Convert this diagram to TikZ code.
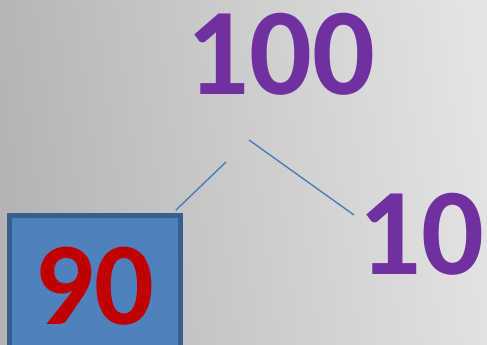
\documentclass[tikz,border=0pt]{standalone}
\usepackage{fontspec}
\setmainfont{Carlito}
\usepackage{xcolor}
\usepackage{tikz}
\usetikzlibrary{calc}
\definecolor{bgdark}{HTML}{B4B4B4}
\definecolor{bglight}{HTML}{E3E3E3}
\definecolor{numpurple}{HTML}{7030A0}
\definecolor{numred}{HTML}{C00000}
\definecolor{boxfill}{HTML}{4F81BD}
\definecolor{boxline}{HTML}{3A5F8C}
\definecolor{linkblue}{HTML}{4A7EBB}
\begin{document}
\begin{tikzpicture}[x=1pt,y=1pt,
  number/.style={anchor=base,inner sep=0pt,text depth=0pt,font=\bfseries\fontsize{124}{124}\selectfont},
  numbox/.style={draw=boxline,line width=4.5pt,fill=boxfill,minimum width=171pt,minimum height=170pt,inner sep=0pt},
  link/.style={draw=linkblue,line width=1.4pt}]
\useasboundingbox (0,0) rectangle (487,345);
\clip (0,0) rectangle (487,345);
\shade[left color=bgdark,right color=bglight,shading angle=97] (0,0) rectangle (487,345);
% numbers
\node[number,numpurple] (hundred) at (281,250) {100};
\node[number,numpurple] (ten) at (421,70) {10};
\node[numbox] (box) at (95,44.5) {};
\node[number,numred,font=\bfseries\fontsize{118}{118}\selectfont] (ninety) at (94,20) {90};
% branches
\draw[link] ([shift={(-55,-67)}]hundred.base) -- ([shift={(-7,3)}]box.north east);
\draw[link] ([shift={(-32,-45)}]hundred.base) -- ([shift={(-67,60)}]ten.base);
\end{tikzpicture}
\end{document}
